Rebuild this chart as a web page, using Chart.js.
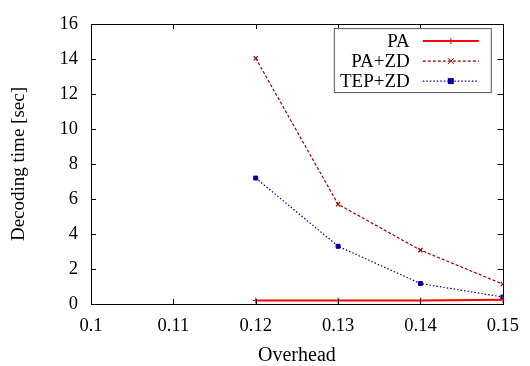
<!DOCTYPE html>
<html>
<head>
<meta charset="utf-8">
<script src="https://cdn.jsdelivr.net/npm/chart.js@4.4.1/dist/chart.umd.min.js"></script>
<style>
  html, body { margin: 0; padding: 0; background: #fff; }
  #wrap { width: 530px; height: 366px; }
</style>
</head>
<body>
<div id="wrap"><canvas id="chart"></canvas></div>
<script>
// values
const overhead = [0.12, 0.13, 0.14, 0.15];
const pa = [0.2, 0.2, 0.2, 0.25];
const paZd = [14.05, 5.7, 3.08, 1.14];
const tepZd = [7.2, 3.3, 1.17, 0.4];
const seriesNames = ["PA", "PA+ZD", "TEP+ZD"];
const xTicks = [0.1, 0.11, 0.12, 0.13, 0.14, 0.15];
const yTicks = [0, 2, 4, 6, 8, 10, 12, 14, 16];

const FONT = "'Liberation Serif', 'DejaVu Serif', serif";

function points(ys) {
    return overhead.map((x, i) => ({x: x, y: ys[i]}));
}

// gnuplot style: tick marks pointing inwards, on all four sides
const inTicks = {
    id: 'inTicks',
    afterDraw(chart) {
        const ctx = chart.ctx;
        const a = chart.chartArea;
        const xs = chart.scales.x, ys = chart.scales.y;
        ctx.save();
        ctx.strokeStyle = '#000';
        ctx.lineWidth = 1;
        ctx.beginPath();
        xTicks.forEach(v => {
            const px = Math.round(xs.getPixelForValue(v)) + 0.5;
            ctx.moveTo(px, a.bottom); ctx.lineTo(px, a.bottom - 5);
            ctx.moveTo(px, a.top); ctx.lineTo(px, a.top + 5);
        });
        yTicks.forEach(v => {
            const py = Math.round(ys.getPixelForValue(v)) + 0.5;
            ctx.moveTo(a.left, py); ctx.lineTo(a.left + 5, py);
            ctx.moveTo(a.right, py); ctx.lineTo(a.right - 5, py);
        });
        ctx.stroke();
        ctx.strokeRect(Math.round(a.left) + 0.5, Math.round(a.top) + 0.5,
            Math.round(a.right - a.left), Math.round(a.bottom - a.top));
        ctx.restore();
    }
};

// legend box in the top right, text right-aligned then line sample
const boxLegend = {
    id: 'boxLegend',
    afterDraw(chart) {
        const ctx = chart.ctx;
        const a = chart.chartArea;
        const bx = a.right - 169, by = a.top + 4, bw = 157, bh = 64;
        ctx.save();
        ctx.fillStyle = '#fff';
        ctx.fillRect(bx, by, bw, bh);
        ctx.strokeStyle = '#555';
        ctx.lineWidth = 1;
        ctx.strokeRect(bx + 0.5, by + 0.5, bw, bh);
        chart.data.datasets.forEach((ds, i) => {
            const cy = by + 13 + i * 20;
            ctx.font = "19px " + FONT;
            ctx.fillStyle = '#000';
            ctx.textAlign = 'right';
            ctx.textBaseline = 'middle';
            ctx.fillText(ds.label, bx + 76, cy + 1);
            ctx.strokeStyle = ds.borderColor;
            ctx.lineWidth = ds.borderWidth;
            ctx.setLineDash(ds.borderDash || []);
            ctx.beginPath();
            ctx.moveTo(bx + 89, cy); ctx.lineTo(bx + 145, cy);
            ctx.stroke();
            ctx.setLineDash([]);
            const mx = bx + 117;
            ctx.lineWidth = 1;
            ctx.fillStyle = ds.borderColor;
            if (ds.pointStyle === 'cross') {
                ctx.beginPath();
                ctx.moveTo(mx, cy - 3); ctx.lineTo(mx, cy + 3);
                ctx.stroke();
            } else if (ds.pointStyle === 'crossRot') {
                ctx.beginPath();
                ctx.moveTo(mx - 3, cy - 3); ctx.lineTo(mx + 3, cy + 3);
                ctx.moveTo(mx + 3, cy - 3); ctx.lineTo(mx - 3, cy + 3);
                ctx.stroke();
            } else {
                ctx.fillRect(mx - 3, cy - 3, 6, 6);
            }
        });
        ctx.restore();
    }
};

new Chart(document.getElementById('chart'), {
    type: 'line',
    data: {
        datasets: [
            {
                label: seriesNames[0],
                data: points(pa),
                borderColor: '#ff0000',
                backgroundColor: '#ff0000',
                borderWidth: 2,
                pointStyle: 'cross',
                pointRadius: 3,
                pointBorderWidth: 1,
                tension: 0
            },
            {
                label: seriesNames[1],
                data: points(paZd),
                borderColor: '#9a0000',
                backgroundColor: '#9a0000',
                borderWidth: 1.2,
                borderDash: [3, 2],
                pointStyle: 'crossRot',
                pointRadius: 3,
                pointBorderWidth: 1.2,
                tension: 0
            },
            {
                label: seriesNames[2],
                data: points(tepZd),
                borderColor: '#0000a0',
                backgroundColor: '#0000a0',
                borderWidth: 1.2,
                borderDash: [1.5, 2],
                pointStyle: 'rect',
                pointRadius: 2.8,
                pointBorderWidth: 1,
                tension: 0
            }
        ]
    },
    options: {
        responsive: true,
        maintainAspectRatio: false,
        animation: false,
        events: [],
        layout: { padding: { top: 15, right: 22, bottom: 0, left: 0 } },
        plugins: {
            legend: { display: false },
            tooltip: { enabled: false }
        },
        scales: {
            x: {
                type: 'linear',
                min: 0.1,
                max: 0.15,
                afterFit: s => { s.height = 62; },
                afterBuildTicks: s => { s.ticks = xTicks.map(v => ({value: v})); },
                grid: { display: true, drawOnChartArea: false, drawTicks: false },
                border: { display: false },
                ticks: {
                    color: '#000',
                    padding: 11,
                    maxRotation: 0,
                    font: { family: FONT, size: 18.5 },
                    callback: v => String(Number(v.toFixed(2)))
                },
                title: {
                    display: true,
                    text: 'Overhead',
                    color: '#000',
                    font: { family: FONT, size: 20, lineHeight: 1 },
                    padding: { top: 0, bottom: 0 }
                }
            },
            y: {
                min: 0,
                max: 16,
                afterFit: s => { s.width = 91; },
                afterBuildTicks: s => { s.ticks = yTicks.map(v => ({value: v})); },
                grid: { display: true, drawOnChartArea: false, drawTicks: false },
                border: { display: false },
                ticks: {
                    color: '#000',
                    padding: 13,
                    font: { family: FONT, size: 18.5 }
                },
                title: {
                    display: true,
                    text: 'Decoding time [sec]',
                    color: '#000',
                    font: { family: FONT, size: 19, lineHeight: 1 },
                    padding: { top: 10, bottom: 0 }
                }
            }
        }
    },
    plugins: [inTicks, boxLegend]
});
</script>
</body>
</html>
